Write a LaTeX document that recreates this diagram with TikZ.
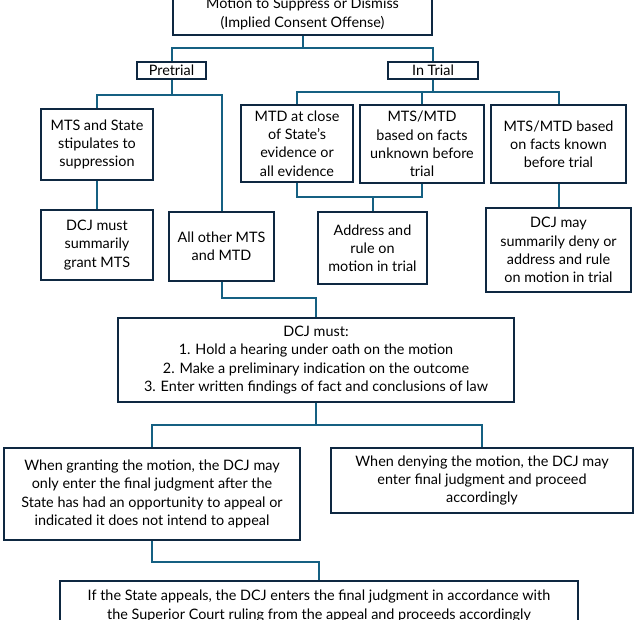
\documentclass[tikz,border=0pt]{standalone}
\usepackage{fontspec}
\setmainfont{Lato}
\definecolor{boxline}{HTML}{0E2841}
\definecolor{linkline}{HTML}{156082}
\tikzset{
	box/.style={draw=boxline,line width=2pt,align=center,inner sep=0pt,font=\fontsize{14.4}{18.2}\selectfont},
	link/.style={draw=linkline,line width=2pt},
}
\begin{document}
\begin{tikzpicture}[x=1pt,y=-1pt]
		\useasboundingbox (0,0) rectangle (639,620);
		% boxes
		\node[box,minimum width=259,minimum height=42] (top) at (302.5,14) {Motion to Suppress or Dismiss\\(Implied Consent Offense)};
		\node[box,minimum width=69,minimum height=17] (pre) at (171.5,70.5) {Pretrial};
		\node[box,minimum width=90,minimum height=17] (trial) at (433,70.5) {In Trial};
		\node[box,minimum width=112,minimum height=71] (mts) at (97,144.5) {MTS and State\\stipulates to\\suppression};
		\node[box,minimum width=112,minimum height=70] (summ) at (97,245) {DCJ must\\summarily\\grant MTS};
		\node[box,minimum width=105,minimum height=69] (allo) at (221.5,246.5) {All other MTS\\and MTD};
		\node[box,minimum width=112,minimum height=77] (close) at (297,143.5) {MTD at close\\of State's\\evidence or\\all evidence};
		\node[box,minimum width=124,minimum height=78] (unk) at (422,144) {MTS/MTD\\based on facts\\unknown before\\trial};
		\node[box,minimum width=135,minimum height=78] (known) at (558.5,144) {MTS/MTD based\\on facts known\\before trial};
		\node[box,minimum width=109,minimum height=72] (addr) at (372.5,248) {Address and\\rule on\\motion in trial};
		\node[box,minimum width=145,minimum height=84] (may) at (558.5,250) {DCJ may\\summarily deny or\\address and rule\\on motion in trial};
		\node[box,minimum width=396,minimum height=84] (must) at (316,360) {DCJ must:\\1. Hold a hearing under oath on the motion\\2. Make a preliminary indication on the outcome\\3. Enter written findings of fact and conclusions of law};
		\node[box,minimum width=296,minimum height=92] (grant) at (152,494) {When granting the motion, the DCJ may\\only enter the final judgment after the\\State has had an opportunity to appeal or\\indicated it does not intend to appeal};
		\node[box,minimum width=302,minimum height=65] (deny) at (482,480.5) {When denying the motion, the DCJ may\\enter final judgment and proceed\\accordingly};
		\node[box,minimum width=518,minimum height=50] (final) at (319,606) {If the State appeals, the DCJ enters the final judgment in accordance with\\the Superior Court ruling from the appeal and proceeds accordingly};
		% bus points
		\coordinate (b1) at (302.5,48);
		\coordinate (b2) at (171.5,95);
		\coordinate (b3) at (433,92);
		\coordinate (b4) at (372.5,197);
		\coordinate (b5) at (250,298);
		\coordinate (b6) at (316,425);
		\coordinate (b7) at (240,562);
		% connectors
		\draw[link] (top.south) -- (b1);
		\draw[link] (pre.north) |- (b1) -| (trial.north);
		\draw[link] (pre.south) -- (b2);
		\draw[link] (mts.north) |- (b2) -| (allo.north);
		\draw[link] (mts.south) -- (summ.north);
		\draw[link] (trial.south) -- (b3);
		\draw[link] (close.north) |- (b3) -| (known.north);
		\draw[link] (unk.north) -- (unk.north |- b3);
		\draw[link] (close.south) |- (b4) -| (unk.south);
		\draw[link] (b4) -- (addr.north);
		\draw[link] (known.south) -- (may.north);
		\draw[link] (allo.south) |- (b5) -| (must.north);
		\draw[link] (must.south) -- (b6);
		\draw[link] (grant.north) |- (b6) -| (deny.north);
		\draw[link] (grant.south) |- (b7) -| (final.north);
\end{tikzpicture}
\end{document}
